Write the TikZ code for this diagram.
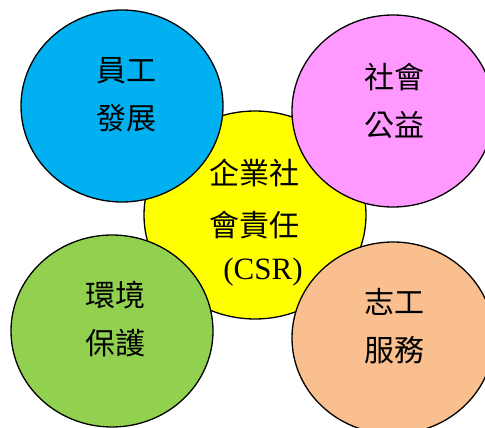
\documentclass[tikz,border=0pt]{standalone}
\usepackage{fontspec}
\setmainfont{Liberation Serif}
\newfontfamily\cjk{Noto Sans CJK TC}
\usetikzlibrary{shapes.geometric}
\definecolor{cblue}{HTML}{00B0F0}
\definecolor{cpink}{HTML}{FF99FF}
\definecolor{cyel}{HTML}{FFFF00}
\definecolor{cgreen}{HTML}{92D050}
\definecolor{corange}{HTML}{F9BF8F}
\tikzset{
  bubble/.style={ellipse, draw=black, line width=1.3pt, minimum width=202pt, minimum height=192pt, inner sep=0pt},
  txt/.style={align=center, inner sep=0pt, font=\cjk\fontsize{30}{48}\selectfont},
}
\begin{document}
\begin{tikzpicture}[x=1pt,y=-1pt]
\useasboundingbox (0,0) rectangle (485,428);
\fill[white] (0,0) rectangle (485,428);
\node[bubble, fill=cyel, minimum width=222pt, minimum height=208pt] (core) at (255,215) {};
\node[bubble, fill=cblue] (emp) at (122,106) {};
\node[bubble, fill=cpink] (soc) at (393,111) {};
\node[bubble, fill=cgreen] (env) at (112,331) {};
\node[bubble, fill=corange] (vol) at (393,338) {};
\node[txt] (coret1) at (254,173) {企業社};
\node[txt] (coret2) at (254,225) {會責任};
\node[inner sep=0pt, font=\fontsize{31}{36}\selectfont] (coret3) at (263,272) {(CSR)};
\node[txt] (empt) at (126,95) {員工\\發展};
\node[txt] (soct) at (394,101) {社會\\公益};
\node[txt] (envt) at (115,319) {環境\\保護};
\node[txt] (volt) at (394,326) {志工\\服務};
\end{tikzpicture}
\end{document}
